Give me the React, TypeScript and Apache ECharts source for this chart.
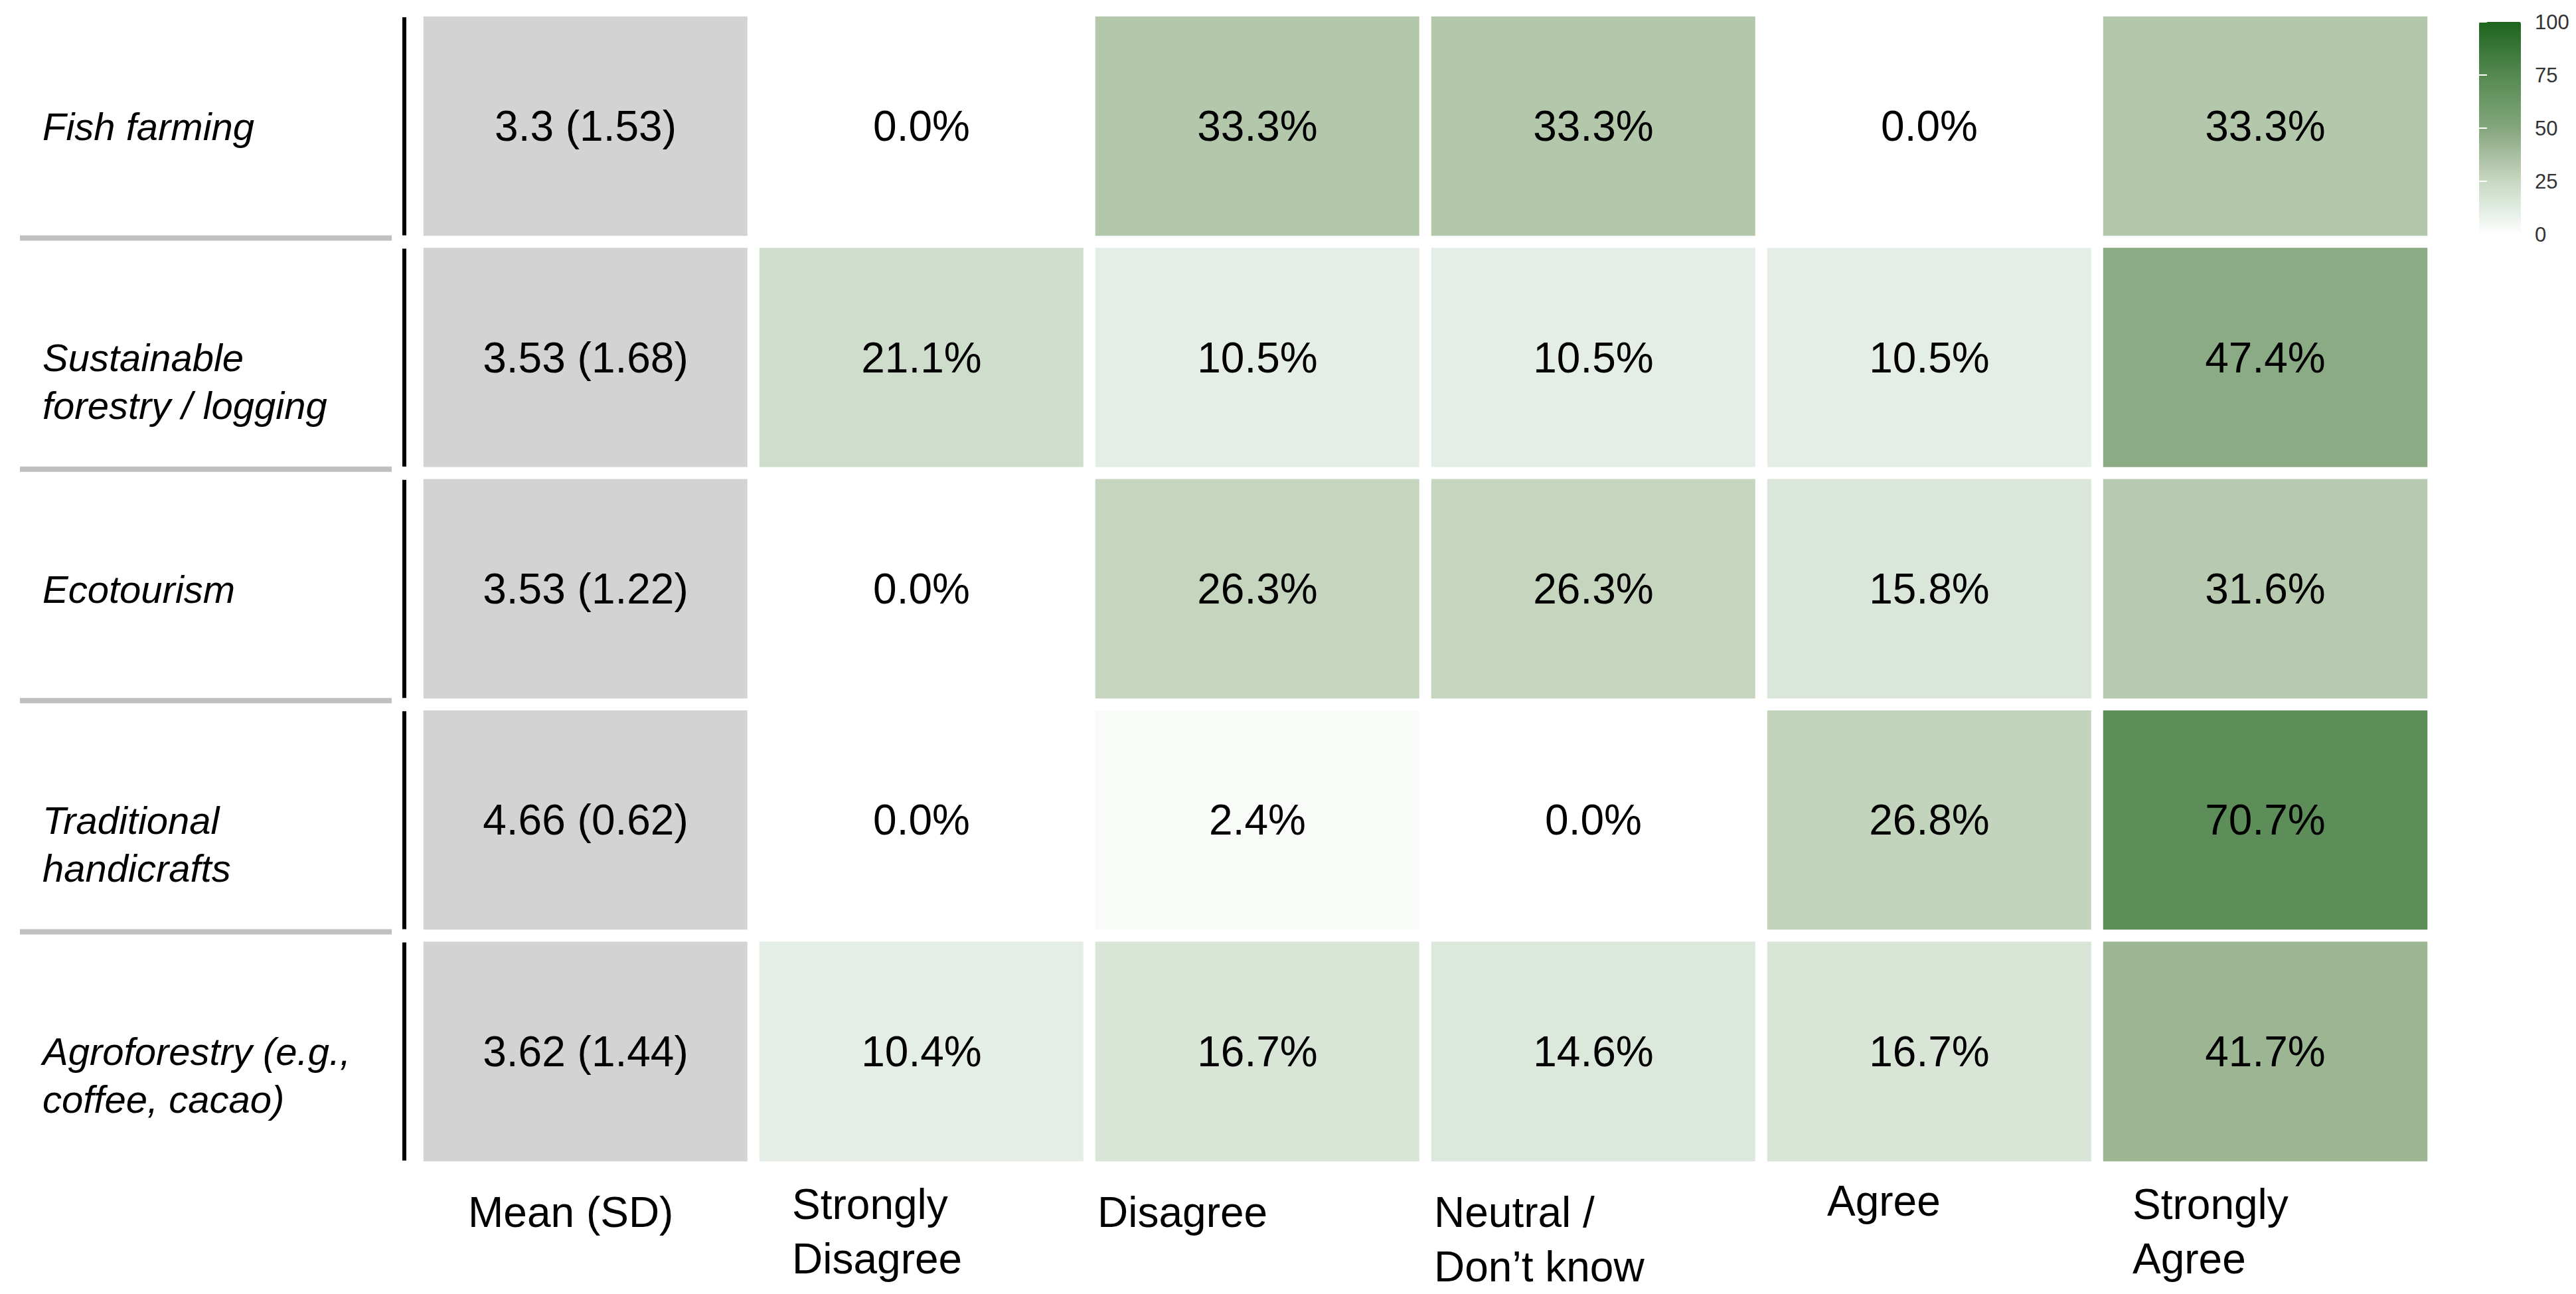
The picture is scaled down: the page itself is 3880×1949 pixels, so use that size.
import React, { useEffect, useRef } from "react";
import * as echarts from "echarts";

const ROWS = [
  "Fish farming",
  "Sustainable\nforestry / logging",
  "Ecotourism",
  "Traditional\nhandicrafts",
  "Agroforestry (e.g.,\ncoffee, cacao)",
];
const COLS = [
  "Mean (SD)",
  "Strongly\nDisagree",
  "Disagree",
  "Neutral /\nDon\u2019t know",
  "Agree",
  "Strongly\nAgree",
];
const MEANS = [3.3, 3.53, 3.53, 4.66, 3.62];
const SDS = [1.53, 1.68, 1.22, 0.62, 1.44];
const STRONGLY_DISAGREE = [0.0, 21.1, 0.0, 0.0, 10.4];
const DISAGREE = [33.3, 10.5, 26.3, 2.4, 16.7];
const NEUTRAL = [33.3, 10.5, 26.3, 0.0, 14.6];
const AGREE = [0.0, 10.5, 15.8, 26.8, 16.7];
const STRONGLY_AGREE = [33.3, 47.4, 31.6, 70.7, 41.7];
const SCALE_TICKS = [0, 25, 50, 75, 100];

const FONT = "'Liberation Sans', Arial, sans-serif";
const GREEN_STOPS = [
  "#ffffff",
  "#e0ebe1",
  "#c8d8c2",
  "#a8bea0",
  "#84a67d",
  "#6c9867",
  "#558951",
  "#397639",
  "#1e641e",
];
const MEAN_GRAY = "#d3d3d3";

// per-column label layout tweaks (box width, vertical shift of first line)
const COL_LABEL_W = [354, 390, 482, 480, 308, 400];
const COL_LABEL_P = [12, 0, 12, 12, -5, 0];

export default function App() {
  const ref = useRef<HTMLDivElement>(null);

  useEffect(() => {
    document.body.style.margin = "0";
    if (!ref.current) return;
    const chart = echarts.init(ref.current, undefined, { renderer: "svg" });

    const pctCols = [STRONGLY_DISAGREE, DISAGREE, NEUTRAL, AGREE, STRONGLY_AGREE];
    const pctData: number[][] = [];
    ROWS.forEach((_, r) => {
      pctCols.forEach((arr, c) => pctData.push([c + 1, r, arr[r]]));
    });
    const meanData = MEANS.map((m, r) => [0, r, m]);

    const rich: Record<string, any> = {};
    COLS.forEach((_, i) => {
      const p = COL_LABEL_P[i];
      rich["a" + i] = {
        width: COL_LABEL_W[i],
        align: "left",
        fontSize: 64,
        fontFamily: FONT,
        color: "#000",
        lineHeight: 82 + 2 * p,
      };
      rich["b" + i] = {
        width: COL_LABEL_W[i],
        align: "left",
        fontSize: 64,
        fontFamily: FONT,
        color: "#000",
        lineHeight: 82 - 2 * p,
      };
    });

    const option: any = {
      animation: false,
      backgroundColor: "#ffffff",
      textStyle: { fontFamily: FONT },
      grid: [
        { left: 629, top: 16, width: 3036, height: 1742 },
        { left: 3734, top: 33, width: 63, height: 320 },
      ],
      xAxis: [
        {
          type: "category",
          gridIndex: 0,
          data: COLS,
          axisLine: { show: false },
          axisTick: { show: false },
          splitLine: { show: false },
          axisLabel: {
            interval: 0,
            margin: 15,
            formatter: (v: string, idx: number) =>
              v
                .split("\n")
                .map((l, k) => `{${k === 0 ? "a" : "b"}${idx}|${l}}`)
                .join("\n"),
            rich,
          },
        },
        { type: "value", gridIndex: 1, show: false, min: 0, max: 1 },
      ],
      yAxis: [
        {
          type: "category",
          gridIndex: 0,
          data: ROWS,
          inverse: true,
          axisLine: { show: false },
          axisTick: { show: false },
          splitLine: { show: false },
          axisLabel: {
            interval: 0,
            align: "left",
            margin: 565,
            fontSize: 58,
            fontStyle: "italic",
            fontFamily: FONT,
            color: "#000",
            lineHeight: 72,
            formatter: (v: string) => (v.includes("\n") ? "\n" + v : v),
          },
        },
        {
          type: "value",
          gridIndex: 1,
          position: "right",
          min: SCALE_TICKS[0],
          max: SCALE_TICKS[SCALE_TICKS.length - 1],
          interval: 25,
          z: 10,
          axisLine: { show: false },
          splitLine: { show: false },
          axisTick: { show: true, inside: true, length: 12, lineStyle: { color: "#ffffff", width: 2 } },
          axisLabel: { margin: 21, fontSize: 31, color: "#333333", fontFamily: FONT },
        },
        {
          type: "value",
          gridIndex: 1,
          position: "left",
          min: SCALE_TICKS[0],
          max: SCALE_TICKS[SCALE_TICKS.length - 1],
          interval: 25,
          z: 10,
          axisLine: { show: false },
          splitLine: { show: false },
          axisTick: { show: true, inside: true, length: 12, lineStyle: { color: "#ffffff", width: 2 } },
          axisLabel: { show: false },
        },
      ],
      visualMap: [
        {
          type: "continuous",
          min: 0,
          max: 100,
          seriesIndex: 1,
          calculable: false,
          left: 3734,
          top: 33,
          padding: 0,
          itemWidth: 63,
          itemHeight: 320,
          inRange: { color: GREEN_STOPS },
        },
        {
          type: "continuous",
          show: false,
          min: 0,
          max: 5,
          seriesIndex: 0,
          inRange: { color: [MEAN_GRAY, MEAN_GRAY] },
        },
      ],
      series: [
        {
          type: "heatmap",
          xAxisIndex: 0,
          yAxisIndex: 0,
          data: meanData,
          itemStyle: { borderColor: "#ffffff", borderWidth: 18 },
          emphasis: { disabled: true },
          label: {
            show: true,
            fontSize: 64,
            color: "#000",
            fontFamily: FONT,
            formatter: (p: any) => `${MEANS[p.dataIndex]} (${SDS[p.dataIndex]})`,
          },
        },
        {
          type: "heatmap",
          xAxisIndex: 0,
          yAxisIndex: 0,
          data: pctData,
          itemStyle: { borderColor: "#ffffff", borderWidth: 18 },
          emphasis: { disabled: true },
          label: {
            show: true,
            fontSize: 64,
            color: "#000",
            fontFamily: FONT,
            formatter: (p: any) => `${p.value[2].toFixed(1)}%`,
          },
        },
        {
          type: "custom",
          xAxisIndex: 0,
          yAxisIndex: 0,
          clip: false,
          silent: true,
          data: ROWS.map((_, r) => [0, r]),
          encode: { x: 0, y: 1 },
          renderItem: (params: any, api: any) => {
            const r = api.value(1);
            const c = api.coord([0, r]);
            const s = api.size([1, 1]);
            const left = c[0] - s[0] / 2;
            const top = c[1] - s[1] / 2;
            const children: any[] = [
              {
                type: "line",
                shape: { x1: left - 20, y1: top + 10, x2: left - 20, y2: top + s[1] - 10 },
                style: { stroke: "#000000", lineWidth: 6 },
              },
            ];
            if (r > 0) {
              children.push({
                type: "line",
                shape: { x1: left - 599, y1: top - 6, x2: left - 39, y2: top - 6 },
                style: { stroke: "#c0c0c0", lineWidth: 8 },
              });
            }
            return { type: "group", children };
          },
        },
      ],
    };

    chart.setOption(option);
    return () => chart.dispose();
  }, []);

  return <div ref={ref} style={{ width: "3880px", height: "1949px" }} />;
}
